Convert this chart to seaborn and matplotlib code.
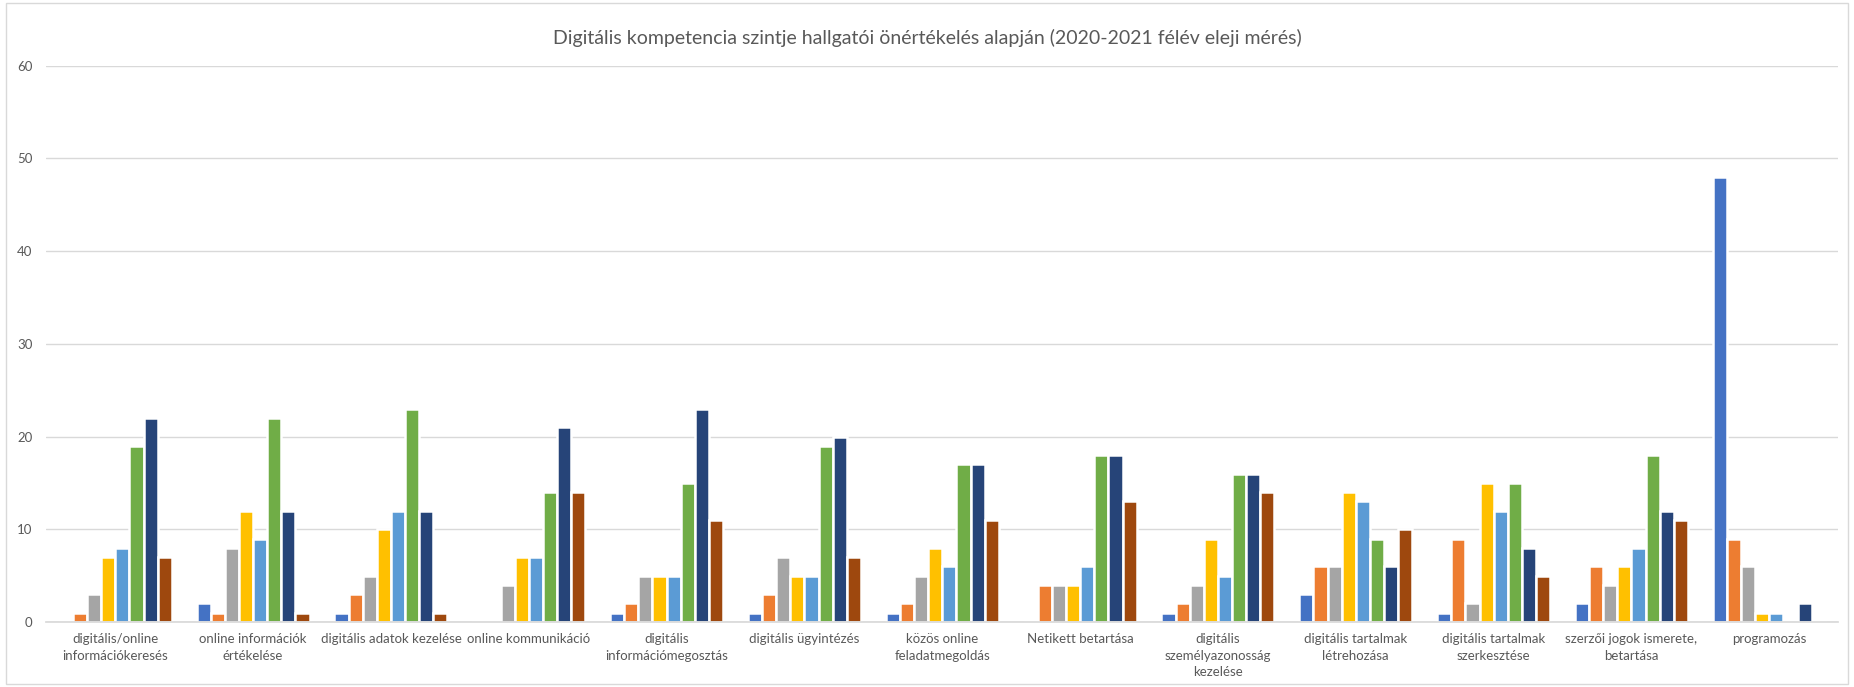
import pandas as pd
import matplotlib.pyplot as plt
import seaborn as sns
from matplotlib.patches import Rectangle

# Categories (tick labels, wrapped like in the original)
categories = [
    "digitális/online\ninformációkeresés",
    "online információk\nértékelése",
    "digitális adatok kezelése",
    "online kommunikáció",
    "digitális\ninformációmegosztás",
    "digitális ügyintézés",
    "közös online\nfeladatmegoldás",
    "Netikett betartása",
    "digitális\nszemélyazonosság\nkezelése",
    "digitális tartalmak\nlétrehozása",
    "digitális tartalmak\nszerkesztése",
    "szerzői jogok ismerete,\nbetartása",
    "programozás",
]

# Series = self-assessed level 1..8 (no legend in the original)
levels = ["1", "2", "3", "4", "5", "6", "7", "8"]

level_1 = [0, 2, 1, 0, 1, 1, 1, 0, 1, 3, 1, 2, 48]
level_2 = [1, 1, 3, 0, 2, 3, 2, 4, 2, 6, 9, 6, 9]
level_3 = [3, 8, 5, 4, 5, 7, 5, 4, 4, 6, 2, 4, 6]
level_4 = [7, 12, 10, 7, 5, 5, 8, 4, 9, 14, 15, 6, 1]
level_5 = [8, 9, 12, 7, 5, 5, 6, 6, 5, 13, 12, 8, 1]
level_6 = [19, 22, 23, 14, 15, 19, 17, 18, 16, 9, 15, 18, 0]
level_7 = [22, 12, 12, 21, 23, 20, 17, 18, 16, 6, 8, 12, 2]
level_8 = [7, 1, 1, 14, 11, 7, 11, 13, 14, 10, 5, 11, 0]

colors = ["#4472C4", "#ED7D31", "#A5A5A5", "#FFC000",
          "#5B9BD5", "#70AD47", "#264478", "#9E480E"]

# Long format table for seaborn
series = [level_1, level_2, level_3, level_4, level_5, level_6, level_7, level_8]
rows = []
for lvl, vals in zip(levels, series):
    for cat, v in zip(categories, vals):
        rows.append({"kategoria": cat, "szint": lvl, "ertek": v})
df = pd.DataFrame(rows)

sns.set_theme(style="white")
plt.rcParams['font.family'] = ['Lato', 'DejaVu Sans']

fig = plt.figure(figsize=(18.54, 6.87), dpi=100)
ax = fig.add_axes([0.0250, 0.0946, 0.9665, 0.810])

sns.barplot(data=df, x="kategoria", y="ertek", hue="szint",
            palette=colors, width=0.82, edgecolor="white", linewidth=1.8,
            saturation=1, legend=False, ax=ax)

ax.set_ylim(0, 60)
ax.set_yticks(range(0, 61, 10))
ax.set_xlim(-0.5, len(categories) - 0.5)
ax.yaxis.grid(True, color="#D9D9D9", linewidth=1)
ax.set_axisbelow(True)
for s in ["top", "right", "left"]:
    ax.spines[s].set_visible(False)
ax.spines["bottom"].set_color("#D9D9D9")
ax.tick_params(axis="both", length=0, colors="#595959", labelsize=9.5)
ax.tick_params(axis="y", pad=10)
ax.tick_params(axis="x", pad=8)
ax.set_xlabel("")
ax.set_ylabel("")
for lab in ax.get_xticklabels():
    lab.set_linespacing(1.45)

fig.suptitle("Digitális kompetencia szintje hallgatói önértékelés alapján (2020-2021 félév eleji mérés)",
             y=0.958, fontsize=14, color="#595959")

# chart area border
fig.patches.append(Rectangle((0.003, 0.005), 0.994, 0.99, transform=fig.transFigure,
                             fill=False, edgecolor="#D9D9D9", linewidth=1))

fig.savefig("out.png", dpi=100)
